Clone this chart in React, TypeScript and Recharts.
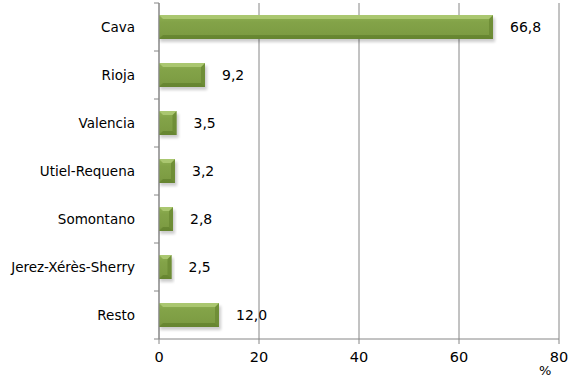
import React from "react";
import { BarChart, Bar, XAxis, YAxis, CartesianGrid, LabelList } from "recharts";

const categories = ["Cava", "Rioja", "Valencia", "Utiel-Requena", "Somontano", "Jerez-Xérès-Sherry", "Resto"];
const values = [66.8, 9.2, 3.5, 3.2, 2.8, 2.5, 12.0];
const xTicks = [0, 20, 40, 60, 80];
const unitLabel = "%";

const data = categories.map((name, i) => ({ name, value: values[i] }));

const W = 572;
const H = 378;
const M = { top: 3, right: 13, bottom: 0, left: 0 };
const X_AXIS_H = 39;
const Y_AXIS_W = 159;
const plotH = H - M.top - M.bottom - X_AXIS_H;
const band = plotH / categories.length;
const FONT = "'DejaVu Sans', sans-serif";

const fmt = (v: number) => v.toFixed(1).replace(".", ",");

const YTick = (props: any) => {
  const { x, y, payload, index } = props;
  const half = band / 2;
  const ax = Y_AXIS_W;
  return (
    <g>
      <line x1={ax - 5} x2={ax} y1={y - half} y2={y - half} stroke="#868686" />
      {index === categories.length - 1 && (
        <line x1={ax - 5} x2={ax} y1={y + half} y2={y + half} stroke="#868686" />
      )}
      <text x={x - 16} y={y} dy={5} textAnchor="end" fontSize={13.5} fontFamily={FONT} fill="#000">
        {payload.value}
      </text>
    </g>
  );
};

const XTick = (props: any) => {
  const { x, y, payload } = props;
  return (
    <text x={x} y={y + 16} textAnchor="middle" fontSize={14.5} fontFamily={FONT} fill="#000">
      {payload.value}
    </text>
  );
};

const BarShape = (props: any) => {
  const { x, y, width, height } = props;
  if (!width || width <= 0) return null;
  const bev = Math.min(4, width / 3);
  return (
    <g>
      <rect x={x + 1} y={y + 3} width={width + 1} height={height} fill="#000" opacity={0.2} filter="url(#blurShadow)" />
      <rect x={x} y={y} width={width} height={height} fill="url(#barGrad)" />
      <polygon
        points={`${x + width - bev},${y + bev} ${x + width},${y} ${x + width},${y + height} ${x + width - bev},${y + height - bev}`}
        fill="#6A8A33"
        opacity={0.8}
      />
      <polygon
        points={`${x},${y + height} ${x + bev},${y + height - bev} ${x + width - bev},${y + height - bev} ${x + width},${y + height}`}
        fill="#61802C"
        opacity={0.7}
      />
      <polygon
        points={`${x},${y} ${x + width},${y} ${x + width - bev},${y + bev} ${x + bev},${y + bev}`}
        fill="#B2CD78"
        opacity={0.8}
      />
    </g>
  );
};

export default function App() {
  return (
    <div style={{ position: "absolute", left: 0, top: 0, width: W, height: H, background: "#fff" }}>
      <BarChart
        width={W}
        height={H}
        data={data}
        layout="vertical"
        margin={M}
        barCategoryGap="25%"
      >
        <defs>
          <linearGradient id="barGrad" x1="0" y1="0" x2="0" y2="1">
            <stop offset="0%" stopColor="#8FB052" />
            <stop offset="30%" stopColor="#83A348" />
            <stop offset="80%" stopColor="#7D9C43" />
            <stop offset="100%" stopColor="#728F3B" />
          </linearGradient>
          <filter id="blurShadow" x="-10%" y="-50%" width="120%" height="200%">
            <feGaussianBlur stdDeviation="1.5" />
          </filter>
        </defs>
        <CartesianGrid horizontal={false} vertical={true} stroke="#868686" strokeWidth={1} />
        <XAxis
          type="number"
          domain={[0, 80]}
          ticks={xTicks}
          height={X_AXIS_H}
          axisLine={{ stroke: "#868686" }}
          tickLine={{ stroke: "#868686" }}
          tickSize={5}
          tick={<XTick />}
          interval={0}
        />
        <YAxis
          type="category"
          dataKey="name"
          width={Y_AXIS_W}
          axisLine={{ stroke: "#868686" }}
          tickLine={false}
          tick={<YTick />}
          interval={0}
        />
        <Bar dataKey="value" shape={<BarShape />} isAnimationActive={false}>
          <LabelList
            dataKey="value"
            position="right"
            offset={17}
            formatter={(v: any) => fmt(Number(v))}
            style={{ fontSize: 14, fontFamily: FONT, fill: "#000" }}
          />
        </Bar>
      </BarChart>
      <div
        style={{
          position: "absolute",
          left: 539,
          top: 364,
          fontFamily: FONT,
          fontSize: 13,
          lineHeight: "14px",
          color: "#000",
        }}
      >
        {unitLabel}
      </div>
    </div>
  );
}
